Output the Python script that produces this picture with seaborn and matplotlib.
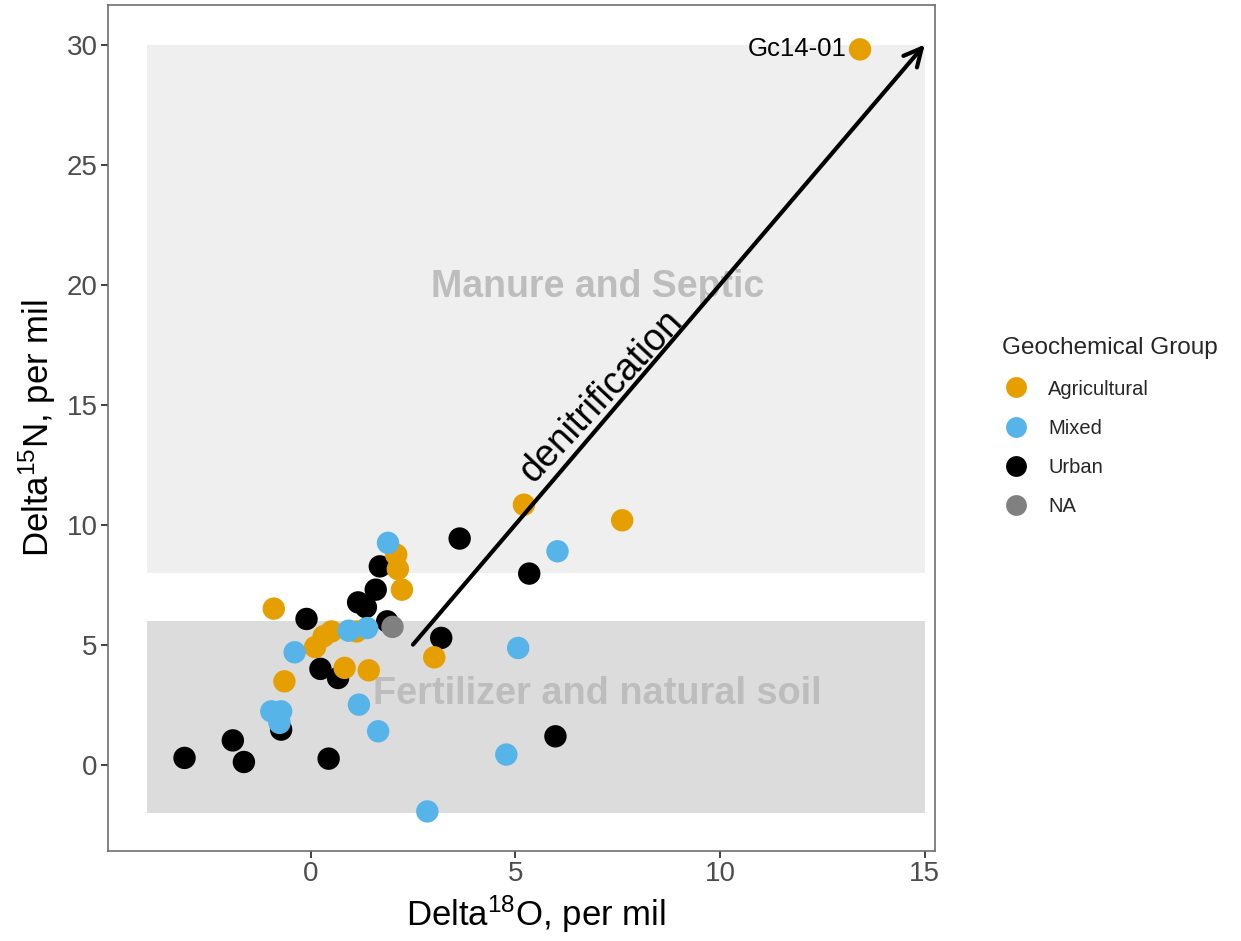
import matplotlib
matplotlib.use("Agg")
import matplotlib.pyplot as plt
import seaborn as sns
import pandas as pd
from matplotlib.patches import Rectangle

# ---- data ----
agri_x = [-0.90, 2.09, 2.13, 2.23, 1.12, 0.51, 0.32, 0.11, 0.83, 1.42, -0.64, 3.02, 5.21, 7.61, 13.42]
agri_y = [6.50, 8.75, 8.15, 7.29, 5.55, 5.55, 5.35, 4.90, 4.03, 3.93, 3.47, 4.47, 10.83, 10.18, 29.80]
mixed_x = [1.89, 1.38, 0.93, -0.39, 1.18, -0.96, -0.72, -0.76, 1.65, 6.03, 5.07, 4.78, 2.85]
mixed_y = [9.24, 5.69, 5.58, 4.68, 2.50, 2.22, 2.22, 1.74, 1.39, 8.89, 4.86, 0.42, -1.95]
urban_x = [-0.10, 1.69, 1.59, 1.16, 1.35, 1.87, 0.24, 0.67, -0.72, -1.90, -3.08, -1.63, 0.44, 3.64, 3.19, 5.34, 5.98]
urban_y = [6.07, 8.26, 7.29, 6.76, 6.56, 5.97, 3.99, 3.61, 1.46, 1.01, 0.28, 0.11, 0.25, 9.42, 5.28, 7.96, 1.18]
na_x = [2.00]
na_y = [5.74]

groups = ["Agricultural", "Mixed", "Urban", "NA"]
colors = ["#E69F00", "#56B4E9", "#000000", "#808080"]

zones = ["Manure and Septic", "Fertilizer and natural soil"]
zone_x = [-4, 15]
zone_y = [(8, 30), (-2, 6)]

arrow_start = (2.5, 5)
arrow_end = (15, 30)
label_point = ("Gc14-01", 13.42, 29.8)

x_ticks = [0, 5, 10, 15]
y_ticks = [0, 5, 10, 15, 20, 25, 30]

# ---- frame ----
draw_order = ["Urban", "Agricultural", "Mixed", "NA"]
src = {"Agricultural": (agri_x, agri_y), "Mixed": (mixed_x, mixed_y),
       "Urban": (urban_x, urban_y), "NA": (na_x, na_y)}
rows = []
for g in draw_order:
    xs, ys = src[g]
    for a, b in zip(xs, ys):
        rows.append({"d18O": a, "d15N": b, "group": g})
df = pd.DataFrame(rows)

sns.set_style("white")
plt.rcParams["font.family"] = ["Liberation Sans", "DejaVu Sans"]
plt.rcParams["mathtext.default"] = "regular"

fig = plt.figure(figsize=(12.41, 9.41), dpi=100)
ax = fig.add_axes([0.087, 0.0956, 0.6664, 0.8991])

fills = ["#EFEFEF", "#DCDCDC"]
for (y0, y1), fc in zip(zone_y, fills):
    ax.add_patch(Rectangle((zone_x[0], y0), zone_x[1] - zone_x[0], y1 - y0,
                           facecolor=fc, edgecolor="none", zorder=0))

ax.text(7.0, 19.9, zones[0], ha="center", va="center", fontsize=27,
        fontweight="bold", color="#BDBDBD", zorder=1)
ax.text(7.0, 2.95, zones[1], ha="center", va="center", fontsize=27.3,
        fontweight="bold", color="#BDBDBD", zorder=1)

sns.scatterplot(data=df, x="d18O", y="d15N", hue="group", hue_order=groups,
                palette=dict(zip(groups, colors)), s=260, linewidth=0,
                ax=ax, zorder=3, legend=False)

ax.annotate("", xy=arrow_end, xytext=arrow_start,
            arrowprops=dict(arrowstyle="->", lw=3, color="black",
                            mutation_scale=32, shrinkA=0, shrinkB=0),
            zorder=4)
ax.text(7.1, 15.35, "denitrification", rotation=47, rotation_mode="anchor",
        ha="center", va="center", fontsize=27, color="black", zorder=5)

ax.text(label_point[1] - 0.33, label_point[2], label_point[0], ha="right",
        va="center", fontsize=18.5, color="black", zorder=5)

ax.set_xlim(-4.95, 15.25)
ax.set_ylim(-3.6, 31.65)
ax.set_xticks(x_ticks)
ax.set_yticks(y_ticks)
ax.tick_params(axis="both", direction="out", length=5, width=1.3,
               color="#333333", labelsize=20, labelcolor="#4D4D4D", pad=2.5,
               bottom=True, left=True)
for sp in ax.spines.values():
    sp.set_color("#6E6E6E")
    sp.set_linewidth(1.2)

ax.set_xlabel("Delta$^{18}$O, per mil", fontsize=25, color="black", labelpad=4)
ax.set_ylabel("Delta$^{15}$N, per mil", fontsize=25, color="black", labelpad=6)
ax.xaxis.set_label_coords(0.517, -0.045, transform=None) if False else None
xl = ax.xaxis.label
xl.set_x(0.517)

handles = [plt.Line2D([], [], marker="o", linestyle="", markersize=15,
                      markerfacecolor=c, markeredgewidth=0) for c in colors]
leg = fig.legend(handles, groups, title="Geochemical Group",
                 loc="upper left", bbox_to_anchor=(0.801, 0.650),
                 frameon=False, fontsize=14.5, title_fontsize=17.5,
                 labelspacing=1.0, handlelength=1.4, handletextpad=0.9,
                 borderaxespad=0)
leg._legend_box.align = "left"

fig.savefig("out.png", dpi=100)
